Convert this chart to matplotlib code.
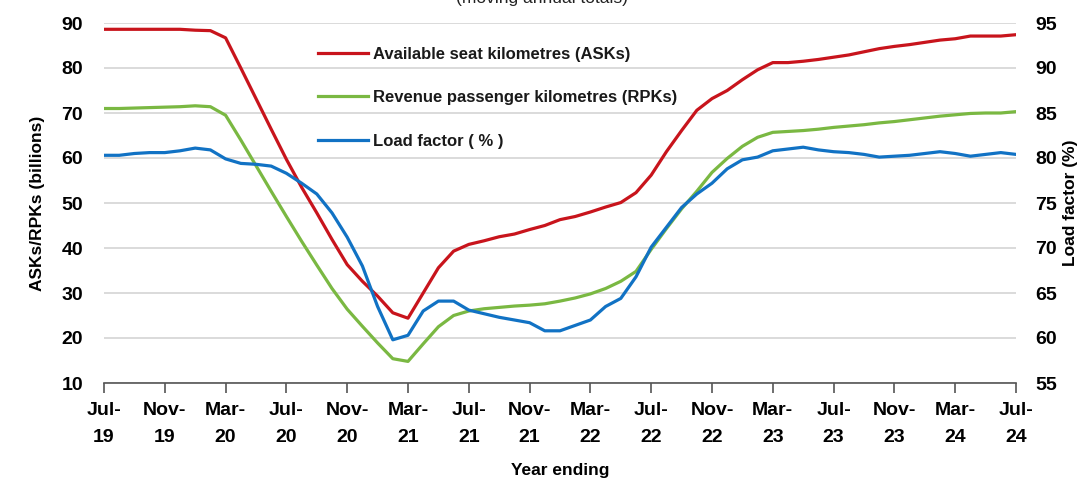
import matplotlib
matplotlib.use("Agg")
import matplotlib.pyplot as plt
import numpy as np

plt.rcParams['font.family'] = ['Liberation Sans', 'DejaVu Sans']

# Monthly data, Jul-19 .. Jul-24 (moving annual totals)
asks = [88.6, 88.6, 88.6, 88.6, 88.6, 88.6, 88.4, 88.3, 86.7, 80.0,
        73.2, 66.4, 59.7, 53.5, 47.8, 41.9, 36.3, 32.6, 29.3, 25.6,
        24.4, 30.0, 35.6, 39.3, 40.8, 41.6, 42.5, 43.1, 44.1, 45.0,
        46.3, 47.0, 48.0, 49.1, 50.1, 52.3, 56.2, 61.4, 66.1, 70.6,
        73.2, 75.0, 77.4, 79.6, 81.2, 81.2, 81.5, 81.9, 82.4, 82.9,
        83.6, 84.3, 84.8, 85.2, 85.7, 86.2, 86.5, 87.1, 87.1, 87.1, 87.4]
rpks = [71.0, 71.0, 71.1, 71.2, 71.3, 71.4, 71.6, 71.4, 69.5, 64.0,
        58.3, 52.6, 47.0, 41.5, 36.2, 31.0, 26.4, 22.6, 18.9, 15.4,
        14.8, 18.7, 22.5, 25.0, 26.0, 26.5, 26.8, 27.1, 27.3, 27.6,
        28.2, 28.9, 29.8, 31.0, 32.6, 34.8, 39.7, 44.3, 48.7, 52.6,
        56.8, 59.9, 62.6, 64.6, 65.7, 65.9, 66.1, 66.4, 66.8, 67.1,
        67.4, 67.8, 68.1, 68.5, 68.9, 69.3, 69.6, 69.9, 70.0, 70.0, 70.3]
load_factor = [80.3, 80.3, 80.5, 80.6, 80.6, 80.8, 81.1, 80.9, 79.9, 79.4,
               79.3, 79.1, 78.3, 77.2, 76.0, 73.9, 71.2, 68.0, 63.5, 59.8,
               60.3, 63.0, 64.1, 64.1, 63.1, 62.7, 62.3, 62.0, 61.7, 60.8,
               60.8, 61.4, 62.0, 63.5, 64.4, 66.8, 70.1, 72.3, 74.5, 76.0,
               77.2, 78.8, 79.8, 80.1, 80.8, 81.0, 81.2, 80.9, 80.7, 80.6,
               80.4, 80.1, 80.2, 80.3, 80.5, 80.7, 80.5, 80.2, 80.4, 80.6, 80.4]
tick_labels = ["Jul-\n19", "Nov-\n19", "Mar-\n20", "Jul-\n20", "Nov-\n20", "Mar-\n21",
               "Jul-\n21", "Nov-\n21", "Mar-\n22", "Jul-\n22", "Nov-\n22", "Mar-\n23",
               "Jul-\n23", "Nov-\n23", "Mar-\n24", "Jul-\n24"]
series_names = ["Available seat kilometres (ASKs)",
                "Revenue passenger kilometres (RPKs)",
                "Load factor ( % )"]

RED = "#C8141C"
GREEN = "#7AB842"
BLUE = "#1172C4"

x = np.arange(len(asks))

fig = plt.figure(figsize=(10.92, 4.8), dpi=100)
ax = fig.add_axes([104/1092, 1-383/480, (1016-104)/1092, (383-23)/480])
ax2 = ax.twinx()

l1, = ax.plot(x, asks, color=RED, lw=2.3, label=series_names[0])
l2, = ax.plot(x, rpks, color=GREEN, lw=2.3, label=series_names[1])
l3, = ax2.plot(x, load_factor, color=BLUE, lw=2.3, label=series_names[2])

ax.set_xlim(0, len(asks)-1)
ax.set_ylim(10, 90)
ax2.set_ylim(55, 95)
ax.set_yticks(np.arange(10, 91, 10))
ax2.set_yticks(np.arange(55, 96, 5))
ax.set_xticks(np.arange(0, len(asks), 4))
ax.set_xticklabels(tick_labels)

ax.grid(axis='y', color='#D4D4D4', lw=1.2)
ax.set_axisbelow(True)
for a in (ax, ax2):
    for s in ('top', 'left', 'right', 'bottom'):
        a.spines[s].set_visible(False)
ax.spines['bottom'].set_visible(True)
ax.spines['bottom'].set_color('#555555')
ax.spines['bottom'].set_linewidth(1.2)

ax.tick_params(axis='x', direction='out', length=7, width=1.2, color='#555555',
               labelsize=14, pad=7)
ax.tick_params(axis='y', length=0, labelsize=14, pad=15)
ax2.tick_params(axis='y', length=0, labelsize=14, pad=14)
for lab in ax.get_xticklabels() + ax.get_yticklabels() + ax2.get_yticklabels():
    lab.set_fontweight('bold')
for lab in ax.get_xticklabels():
    lab.set_linespacing(1.75)

ax.set_ylabel("ASKs/RPKs (billions)", fontsize=12.5, fontweight='bold', labelpad=12)
ax2.set_ylabel("Load factor (%)", fontsize=12.5, fontweight='bold', labelpad=4)
ax.set_xlabel("Year ending", fontsize=12.5, fontweight='bold', labelpad=12)

fig.text(542/1092, 1 - 3/480, "(moving annual totals)", fontsize=12.5,
         ha='center', va='baseline', color='#222222')

leg = ax.legend(handles=[l1, l2, l3], loc='upper left',
                bbox_to_anchor=((318-104)/912, (383-47)/360), frameon=False,
                fontsize=12, handlelength=3.0, handletextpad=0.3,
                labelspacing=1.7, borderaxespad=0, borderpad=0)
for t in leg.get_texts():
    t.set_fontweight('bold')
    t.set_color('#1a1a1a')

fig.savefig("out.png", dpi=100)
